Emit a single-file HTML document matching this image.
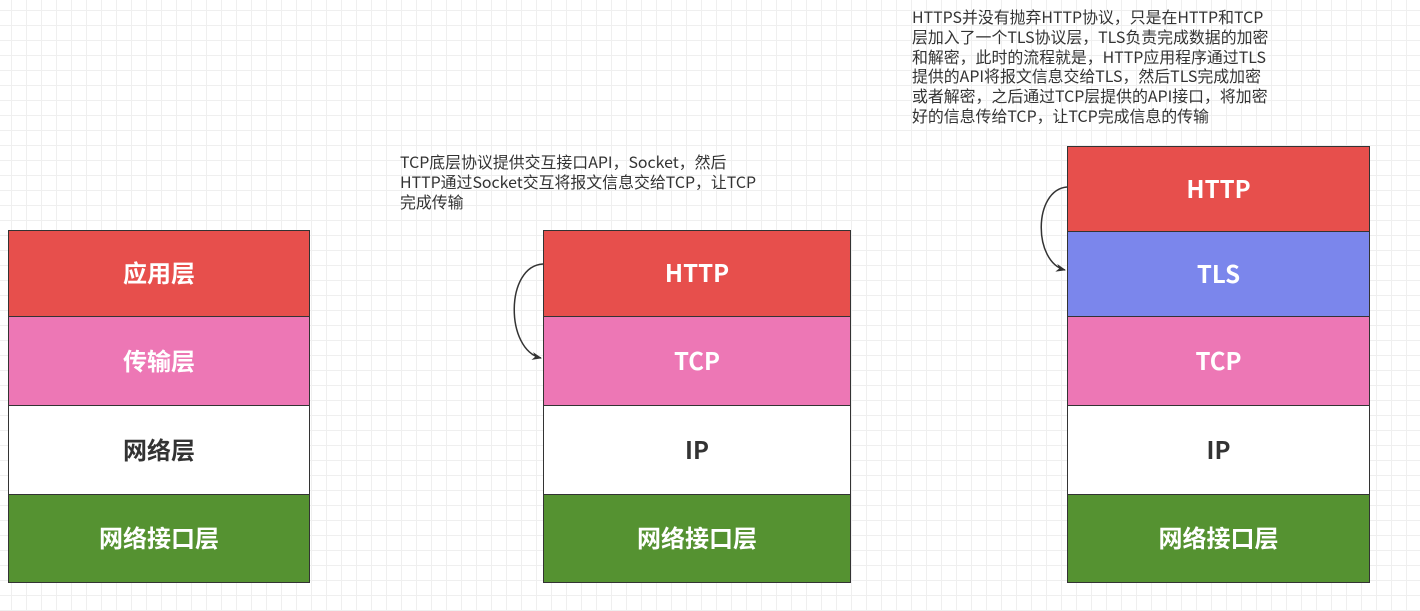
<!DOCTYPE html>
<html><head><meta charset="utf-8"><style>
html,body{margin:0;padding:0}
body{width:1420px;height:611px;position:relative;overflow:hidden;background-color:#fff;
background-image:linear-gradient(#efefef 1px,transparent 1px),linear-gradient(90deg,#efefef 1px,transparent 1px);
background-size:15px 15px;background-position:-4px -5px;font-family:"Noto Sans CJK SC",sans-serif}
.b{position:absolute;box-sizing:border-box;border:1.5px solid #333;display:flex;align-items:center;justify-content:center;font-weight:bold;font-size:24px;color:#fff;font-family:"Noto Sans CJK SC",sans-serif;padding-bottom:4px}
.r{background:#e74f4c}.p{background:#ed77b5}.w{background:#fff;color:#333}.g{background:#559231}.t{background:#7b86ec}
.txt{position:absolute;font-size:15.9px;line-height:19.8px;color:#333;white-space:pre;font-family:"Noto Sans CJK SC",sans-serif}
</style></head><body>
<div class="b r" style="left:8px;top:230px;width:302px;height:87px">应用层</div>
<div class="b p" style="left:8px;top:316px;width:302px;height:90px">传输层</div>
<div class="b w" style="left:8px;top:405px;width:302px;height:90px">网络层</div>
<div class="b g" style="left:8px;top:494px;width:302px;height:89px">网络接口层</div>

<div class="b r" style="left:543px;top:230px;width:308px;height:87px">HTTP</div>
<div class="b p" style="left:543px;top:316px;width:308px;height:90px">TCP</div>
<div class="b w" style="left:543px;top:405px;width:308px;height:90px">IP</div>
<div class="b g" style="left:543px;top:494px;width:308px;height:89px">网络接口层</div>

<div class="b r" style="left:1067px;top:146px;width:303px;height:86px">HTTP</div>
<div class="b t" style="left:1067px;top:231px;width:303px;height:86px">TLS</div>
<div class="b p" style="left:1067px;top:316px;width:303px;height:90px">TCP</div>
<div class="b w" style="left:1067px;top:405px;width:303px;height:90px">IP</div>
<div class="b g" style="left:1067px;top:494px;width:303px;height:89px">网络接口层</div>

<svg style="position:absolute;left:0;top:0" width="1420" height="611">
<defs><marker id="a" markerWidth="10" markerHeight="8" refX="9" refY="4" orient="auto" markerUnits="userSpaceOnUse"><path d="M0,0 L10,4 L0,8 L3,4z" fill="#333"/></marker></defs>
<path d="M543,264 C505,266 505,350 541,358" fill="none" stroke="#333" stroke-width="1.5" marker-end="url(#a)"/>
<path d="M1067,187 C1033,190 1033,262 1065,270" fill="none" stroke="#333" stroke-width="1.5" marker-end="url(#a)"/>
</svg>

<div class="txt" style="left:400px;top:152px">TCP底层协议提供交互接口API，Socket，然后
HTTP通过Socket交互将报文信息交给TCP，让TCP
完成传输</div>
<div class="txt" style="left:912px;top:7px">HTTPS并没有抛弃HTTP协议，只是在HTTP和TCP
层加入了一个TLS协议层，TLS负责完成数据的加密
和解密，此时的流程就是，HTTP应用程序通过TLS
提供的API将报文信息交给TLS，然后TLS完成加密
或者解密，之后通过TCP层提供的API接口，将加密
好的信息传给TCP，让TCP完成信息的传输</div>
</body></html>
